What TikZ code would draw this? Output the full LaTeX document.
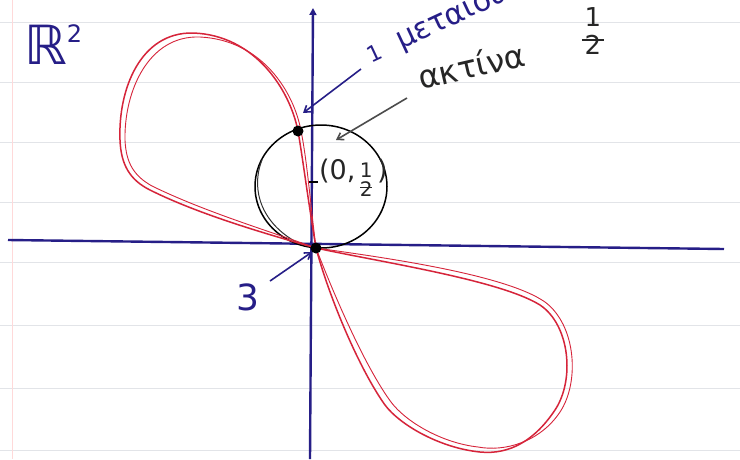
\documentclass[tikz,border=0pt]{standalone}
\usepackage{fontspec}
\setmainfont{DejaVu Sans}
\usetikzlibrary{arrows.meta}
\definecolor{pen}{RGB}{38,30,135}
\definecolor{redpen}{RGB}{214,36,58}
\definecolor{ruling}{RGB}{226,228,232}
\begin{document}
\begin{tikzpicture}[x=1pt,y=-1pt,
  axis/.style={pen, line width=2.4pt},
  lobe/.style={redpen, line width=1.5pt, line join=round},
  lobeb/.style={redpen, line width=0.9pt, line join=round},
  ring/.style={black, line width=1.5pt},
  dot/.style={circle, fill=black, inner sep=0pt, minimum size=11pt},
  bluearrow/.style={pen, line width=1.6pt, -{Straight Barb[length=6pt,width=8pt]}},
  greyarrow/.style={black!70, line width=1.6pt, -{Straight Barb[length=6pt,width=8pt]}},
  bluetext/.style={pen, inner sep=0pt},
  blacktext/.style={black!85, inner sep=0pt}]
\useasboundingbox (0,0) rectangle (740,459);
\fill[white] (0,0) rectangle (740,459);
% notebook ruling
\foreach \yy in {22,82,142,202,262,325,388,450}
  \draw[ruling, line width=1pt] (0,\yy) -- (740,\yy);
\draw[red!15, line width=0.8pt] (12,0) -- (12,459);

% named points
\coordinate (xl) at (8,240);
\coordinate (xr) at (724,249);
\coordinate (yb) at (310,459);
\coordinate (yt) at (313,8);
\coordinate (C) at (321,186.5);

% axes
\draw[axis] (xl) -- (xr);
\draw[axis, -{Triangle[length=7pt,width=7pt]}] (yb) -- (yt);

% circle of radius 1/2
\draw[ring] (C) ellipse [x radius=66, y radius=61.5];
\draw[black!80, line width=1pt] (262,160) .. controls (250,190) and (262,225) .. (300,244);

% red curve: upper lobe
\coordinate (O) at (316,248);
\coordinate (P) at (298,131);
\draw[lobe] (O) .. controls (308,200) and (303,160) .. (P)
  .. controls (290,90) and (255,35) .. (193,33)
  .. controls (140,32) and (118,90) .. (120,140)
  .. controls (121,165) and (130,180) .. (150,190)
  .. controls (200,215) and (270,235) .. (O);
\draw[lobeb] (O) .. controls (310,200) and (307,160) .. (301,131)
  .. controls (294,92) and (262,40) .. (200,37)
  .. controls (148,35) and (124,92) .. (125,140)
  .. controls (126,163) and (134,176) .. (152,186)
  .. controls (205,212) and (272,232) .. (O);
% red curve: lower lobe
\draw[lobe] (O) .. controls (380,262) and (500,280) .. (540,305)
  .. controls (570,325) and (575,380) .. (555,410)
  .. controls (535,440) and (510,455) .. (480,452)
  .. controls (440,448) and (400,425) .. (385,405)
  .. controls (360,370) and (330,300) .. (O);
\draw[lobeb] (O) .. controls (380,257) and (505,274) .. (545,302)
  .. controls (576,325) and (580,382) .. (560,412)
  .. controls (540,442) and (505,452) .. (478,447)
  .. controls (442,443) and (406,422) .. (391,402)
  .. controls (366,368) and (336,300) .. (O);

% points
\node[dot] (Pd) at (P) {};
\node[dot] (Od) at (O) {};

% tick and label (0,1/2)
\draw[black, line width=1.3pt] (309,182) -- (318,182);
\node[blacktext, anchor=west, font=\fontsize{27}{27}\selectfont] (half) at (319,181)
  {(0,\,\raisebox{-0.3em}{\fontsize{20}{20}\selectfont\begin{tabular}{@{}c@{}}1\\[-0.5em]\rule{0.6em}{1pt}\\[-0.6em]2\end{tabular}}\,)};

% R^2
\node[bluetext, anchor=north west, font=\fontsize{54}{54}\selectfont] (R2) at (24,24) {ℝ\raisebox{0.42em}{\fontsize{24}{24}\selectfont 2}};

% label 3
\node[bluetext, font=\fontsize{36}{36}\selectfont] (three) at (248,297) {3};
\coordinate (threeA) at (270,281);
\draw[bluearrow] (threeA) -- (Od.south west);

% label "1 μετα..."
\node[bluetext, anchor=base west, rotate=25, font=\fontsize{30}{30}\selectfont] (mono) at (371,64) {{\fontsize{22}{22}\selectfont 1}\,\, μεταιου};
\coordinate (monoA) at (361,69);
\draw[bluearrow] (monoA) -- (303,113);

% label "ακτίνα 1/2"
\node[blacktext, anchor=base west, rotate=13, font=\fontsize{32}{32}\selectfont] (aktina) at (421,90) {ακτίνα};
\node[blacktext, font=\fontsize{26}{26}\selectfont] (frac) at (593,35)
  {\begin{tabular}{@{}c@{}}1\\[-0.45em]\rule{0.85em}{1.4pt}\\[-0.5em]2\end{tabular}};
\coordinate (aktA) at (407,98);
\draw[greyarrow] (aktA) -- (336,140);
\end{tikzpicture}
\end{document}
